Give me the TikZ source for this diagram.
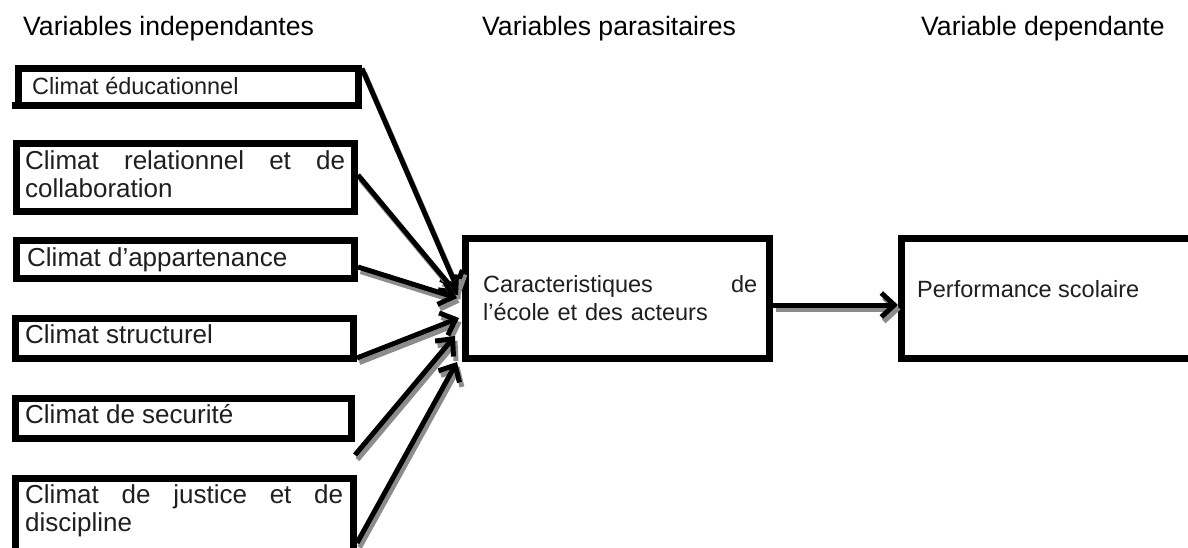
\documentclass[tikz,border=0pt]{standalone}
\usepackage{fontspec}
\setmainfont{Liberation Sans}
\usetikzlibrary{arrows.meta}
\newcommand\headfont{\fontsize{26.6pt}{30pt}\selectfont}
\newcommand\leftfont{\fontsize{26pt}{28pt}\selectfont}
\newcommand\smallboxfont{\fontsize{23.5pt}{28pt}\selectfont}
\newcommand\midfont{\fontsize{23.5pt}{28pt}\selectfont}
\begin{document}
\begin{tikzpicture}[x=1pt,y=-1pt,
  box/.style={draw=black, line width=7pt, fill=white, rectangle,
    inner sep=0pt, outer sep=0pt, anchor=north west},
  head/.style={inner sep=0pt, anchor=base west, font=\headfont, text=black},
  txt/.style={inner sep=0pt, anchor=base west, text=black!88},
  mtxt/.style={txt, text width=#1, align=left},
  tipshape/.style={-{Straight Barb[length=13pt,width=24pt]}},
  arr/.style={line width=5pt, tipshape,
    preaction={draw=black!45, line width=5pt, tipshape,
      transform canvas={shift={(2.5pt,-4.5pt)}}}}
]
\path[use as bounding box, clip] (0,0) rectangle (1188,548);
\fill[white] (0,0) rectangle (1188,548);

% column headings
\node[head] (h1) at (23,36) {Variables independantes};
\node[head] (h2) at (482,36) {Variables parasitaires};
\node[head] (h3) at (921,36) {Variable dependante};

% independent variables
\node[box, minimum width=340pt, minimum height=37pt] (b1) at (18.5,68.5) {};
\draw[line width=7pt] (12,105.5) -- (b1.south west);
\node[box, minimum width=338pt, minimum height=68pt] (b2) at (16.5,143.5) {};
\node[box, minimum width=338pt, minimum height=38pt] (b3) at (16.5,240.5) {};
\node[box, minimum width=338pt, minimum height=40pt] (b4) at (15.5,318.5) {};
\node[box, minimum width=336pt, minimum height=40pt] (b5) at (15.5,398.5) {};
\node[box, minimum width=338pt, minimum height=88pt] (b6) at (15.5,478.5) {};

\node[txt, font=\smallboxfont] (l1) at (32,95) {Climat éducationnel};
\node[mtxt=330pt, font=\leftfont] (l2) at (25,170)
  {\makebox[320pt][l]{Climat\hfill relationnel\hfill et\hfill de}\\collaboration};
\node[txt, font=\leftfont] (l3) at (27,266) {Climat d’appartenance};
\node[txt, font=\leftfont] (l4) at (25,343) {Climat structurel};
\node[txt, font=\leftfont] (l5) at (25,423) {Climat de securité};
\node[mtxt=330pt, font=\leftfont] (l6) at (25,503)
  {\makebox[318pt][l]{Climat\hfill de\hfill justice\hfill et\hfill de}\\discipline};

% mediating and dependent variables
\node[box, minimum width=304pt, minimum height=120pt] (b7) at (465.5,238.5) {};
\node[box, minimum width=305pt, minimum height=120pt] (b8) at (901.5,238.5) {};
\node[mtxt=290pt, font=\midfont] (l7) at (483,292)
  {\makebox[274pt][l]{Caracteristiques\hfill de}\\l’école et des acteurs};
\node[txt, font=\midfont] (l8) at (917,297) {Performance scolaire};

% connectors
\draw[arr] ([xshift=3.5pt]b1.north east) -- ([xshift=-7.5pt,yshift=8.5pt]b7.west);
\draw[arr] ([xshift=3.5pt,yshift=2.5pt]b2.east) -- ([xshift=-7.5pt,yshift=3.5pt]b7.west);
\draw[arr] ([xshift=3.5pt,yshift=-7.5pt]b3.east) -- ([xshift=-8.5pt,yshift=0.5pt]b7.west);
\draw[arr] ([xshift=3.5pt,yshift=-19.5pt]b4.east) -- ([xshift=-6.5pt,yshift=-19.5pt]b7.west);
\draw[arr] ([xshift=3.5pt,yshift=-36.5pt]b5.east) -- ([xshift=-10.5pt,yshift=-37.5pt]b7.west);
\draw[arr] ([xshift=3.5pt,yshift=-20.5pt]b6.east) -- ([xshift=-8.5pt,yshift=-63.5pt]b7.west);
\draw[arr] ([xshift=3.5pt,yshift=-6.5pt]b7.east) -- ([xshift=-3.5pt,yshift=-6.5pt]b8.west);
\end{tikzpicture}
\end{document}
